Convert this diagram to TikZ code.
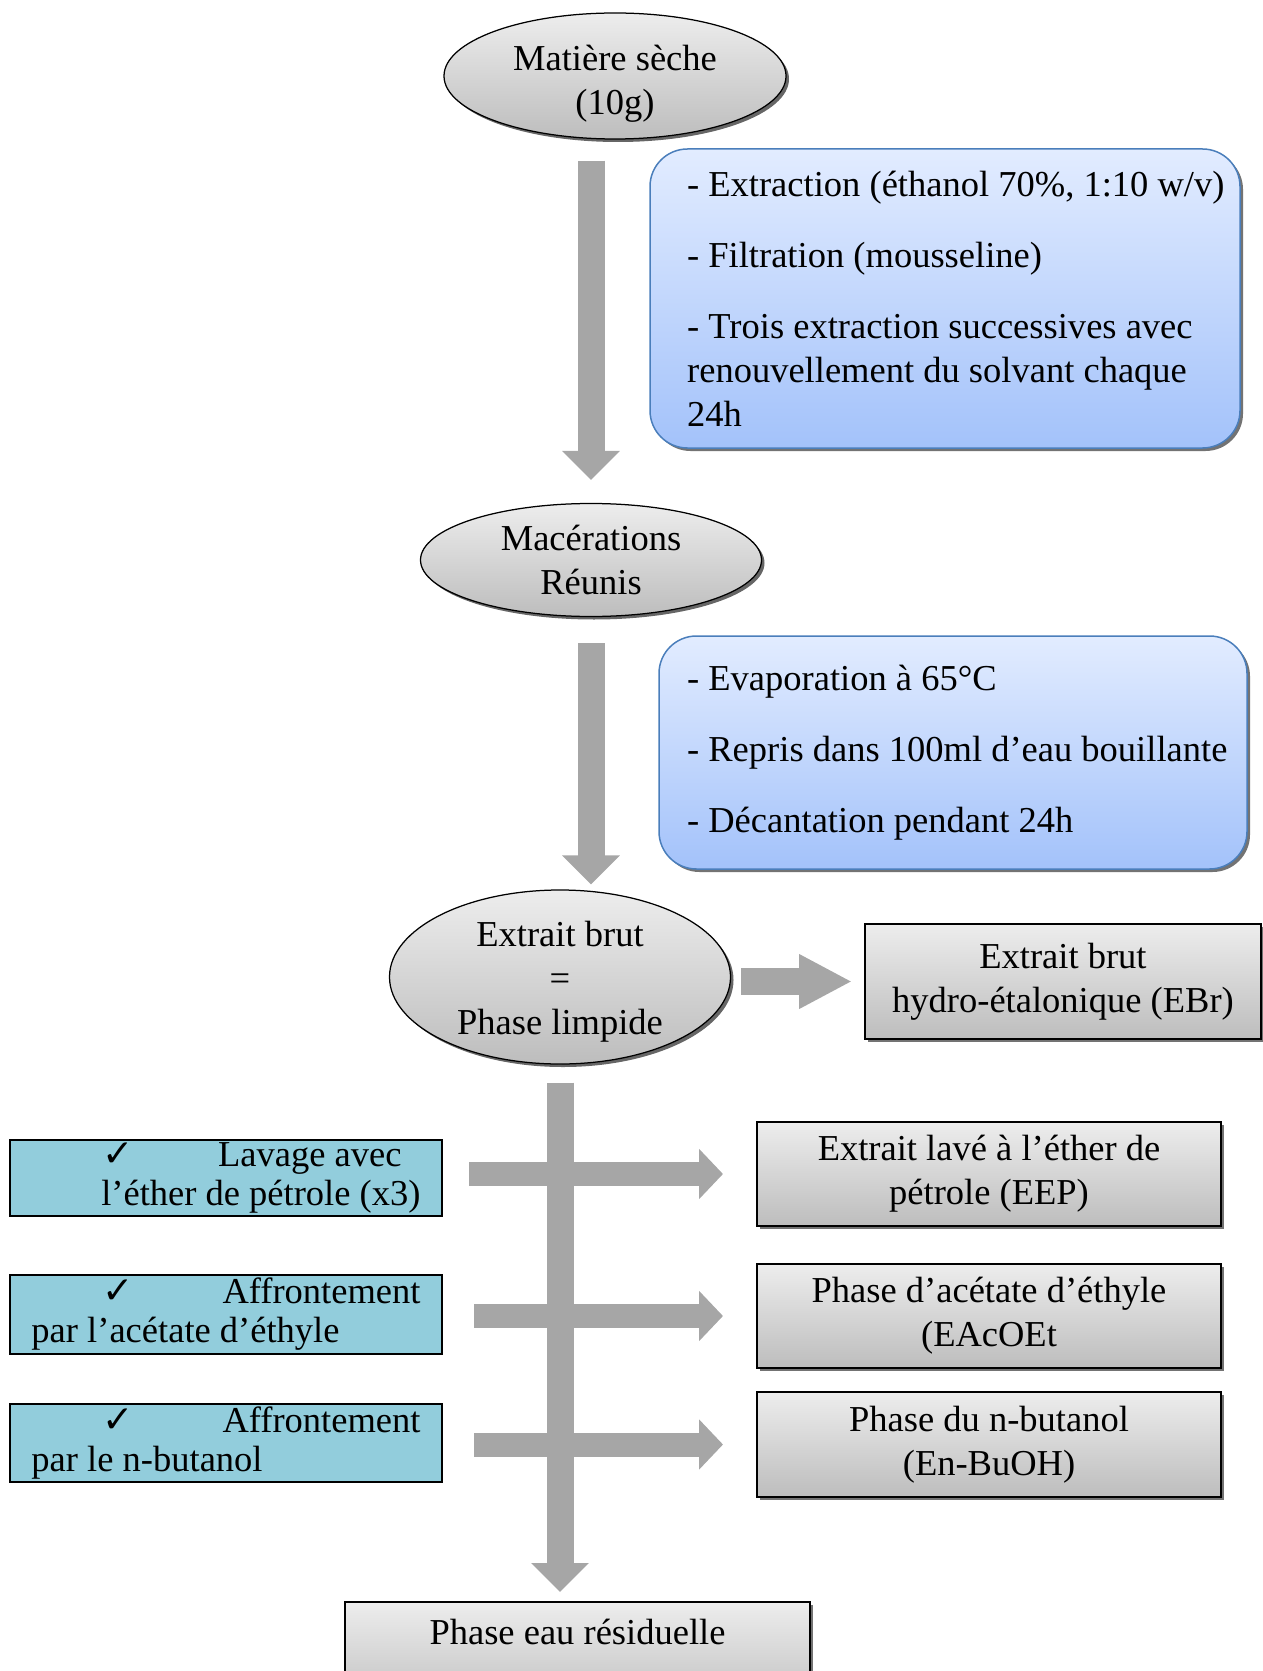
\documentclass[tikz,border=0pt]{standalone}
\usepackage{fontspec}
\setmainfont{Liberation Serif}
\newfontfamily\checkfont{DejaVu Sans}
\usepackage{tikz}
\usetikzlibrary{arrows.meta,positioning,calc,shapes.geometric,shadows}
\definecolor{ink}{HTML}{000000}
\definecolor{flowgrey}{HTML}{A6A6A6}
\definecolor{skyedge}{HTML}{4A7EBB}
\definecolor{skytop}{HTML}{E2ECFF}
\definecolor{skybot}{HTML}{A3C2FA}
\definecolor{greytop}{HTML}{EDEDED}
\definecolor{greybot}{HTML}{BDBDBD}
\definecolor{tealc}{HTML}{92CDDC}
\newcommand{\tick}{{\checkfont\fontsize{15}{15}\selectfont ✓}}

\begin{document}
\begin{tikzpicture}[x=0.4pt,y=-0.4pt,every node/.style={font=\fontsize{14.6}{17.6}\selectfont}]
\tikzstyle{oval}=[ellipse,draw=ink,line width=0.5pt,top color=greytop,bottom color=greybot,inner xsep=0pt,inner ysep=-8pt,align=center,drop shadow={shadow xshift=1.2pt,shadow yshift=-1.2pt,fill=black!60,opacity=1}]
\tikzstyle{bluebox}=[rounded corners=15pt,draw=skyedge,line width=0.6pt,top color=skytop,bottom color=skybot,align=left,inner sep=0pt,drop shadow={shadow xshift=1.2pt,shadow yshift=-1.2pt,fill=black!55,opacity=1}]
\tikzstyle{greybox}=[draw=ink,line width=0.8pt,top color=greytop,bottom color=greybot,align=center,inner sep=0pt,drop shadow={shadow xshift=1.2pt,shadow yshift=-1.2pt,fill=black!55,opacity=1}]
\tikzstyle{washbox}=[draw=ink,line width=0.8pt,fill=tealc,text width=155.6pt,inner xsep=8.6pt,inner ysep=0pt,minimum width=172.8pt,align=flush left,font=\fontsize{14.6}{15.6}\selectfont]
\tikzstyle{flowdown}=[draw=flowgrey,line width=10.8pt,-{Triangle[width=22.4pt,length=11.6pt]}]
\tikzstyle{flowside}=[draw=flowgrey,line width=9.6pt,-{Triangle[width=19.6pt,length=9.6pt]}]
\tikzstyle{flowebr}=[draw=flowgrey,line width=10.8pt,-{Triangle[width=20.4pt,length=21.2pt]}]
\useasboundingbox (0,0) rectangle (1263,1671);

% main column
\node[oval,minimum width=136.8pt,minimum height=50.4pt] (seche) at (615,76) {\rule{0pt}{16.7pt}Matière sèche\\(10g)};
\node[oval,minimum width=136.4pt,minimum height=45.2pt] (macer) at (591,560) {Macérations\\Réunis};
\node[oval,minimum width=136.4pt,minimum height=69.6pt] (brut) at (560,977) {\rule{0pt}{13.6pt}Extrait brut\\=\\Phase limpide};

% operating conditions
\node[bluebox,minimum width=236pt,minimum height=119.6pt] (extr) at (945,298.5) {\hspace*{8.6pt}- Extraction (éthanol 70\%, 1:10 w/v)\\[10.8pt]\hspace*{8.6pt}- Filtration (mousseline)\\[10.8pt]\hspace*{8.6pt}- Trois extraction successives avec\\\hspace*{8.6pt}renouvellement du solvant chaque\\\hspace*{8.6pt}24h};
\node[bluebox,minimum width=235.2pt,minimum height=93.2pt] (evap) at (953,752.5) {\hspace*{3.4pt}- Evaporation à 65°C\\[10.8pt]\hspace*{3.4pt}- Repris dans 100ml d’eau bouillante\\[10.8pt]\hspace*{3.4pt}- Décantation pendant 24h};

% extracts
\node[greybox,minimum width=158.4pt,minimum height=46pt] (ebr) at (1063,981.5) {Extrait brut\\hydro-étalonique (EBr)};
\node[greybox,minimum width=185.6pt,minimum height=41.6pt] (eep) at (989,1174) {Extrait lavé à l’éther de\\pétrole (EEP)};
\node[greybox,minimum width=185.6pt,minimum height=41.6pt] (eac) at (989,1316) {Phase d’acétate d’éthyle\\(EAcOEt};
\node[greybox,minimum width=185.6pt,minimum height=42pt] (ebu) at (989,1444.5) {Phase du n-butanol\\(En-BuOH)};
\node[greybox,anchor=north,minimum width=186pt,text height=16.8pt,text depth=28pt] (resid) at (577.5,1601) {Phase eau résiduelle};

% solvents
\node[washbox,minimum height=30.4pt] (lav) at (226,1178) {\hspace*{28.6pt}\tick\hfill Lavage avec\hspace*{7.6pt}\null\\\hspace*{\fill}l’éther de pétrole (x3)};
\node[washbox,minimum height=31.6pt] (aff) at (226,1314.5) {\hspace*{28.6pt}\tick\hfill Affrontement\\par l’acétate d’éthyle\hspace*{\fill}};
\node[washbox,minimum height=31.2pt] (but) at (226,1443) {\hspace*{28.6pt}\tick\hfill Affrontement\\par le n-butanol\hspace*{\fill}};

% arrows
\draw[flowdown] ($(macer.north |- seche.south)+(0,21)$) -- ($(macer.north)+(0,-23)$);
\draw[flowdown] ($(macer.south)+(0,26)$) -- ($(macer.south |- brut.north)+(0,-5)$);
\draw[flowebr] ($(ebr.west -| brut.east)+(10,0)$) -- ($(ebr.west)+(-12,0)$);
\draw[flowdown] ($(brut.south)+(0,18)$) -- ($(brut.south |- resid.north)+(0,-9)$);
\draw[flowside] ($(eep.west -| lav.east)+(26,0)$) -- ($(eep.west)+(-33,0)$);
\draw[flowside] ($(eac.west -| aff.east)+(31,0)$) -- ($(eac.west)+(-33,0)$);
\draw[flowside] ($(ebu.west -| but.east)+(31,0)$) -- ($(ebu.west)+(-33,0)$);
\end{tikzpicture}
\end{document}
